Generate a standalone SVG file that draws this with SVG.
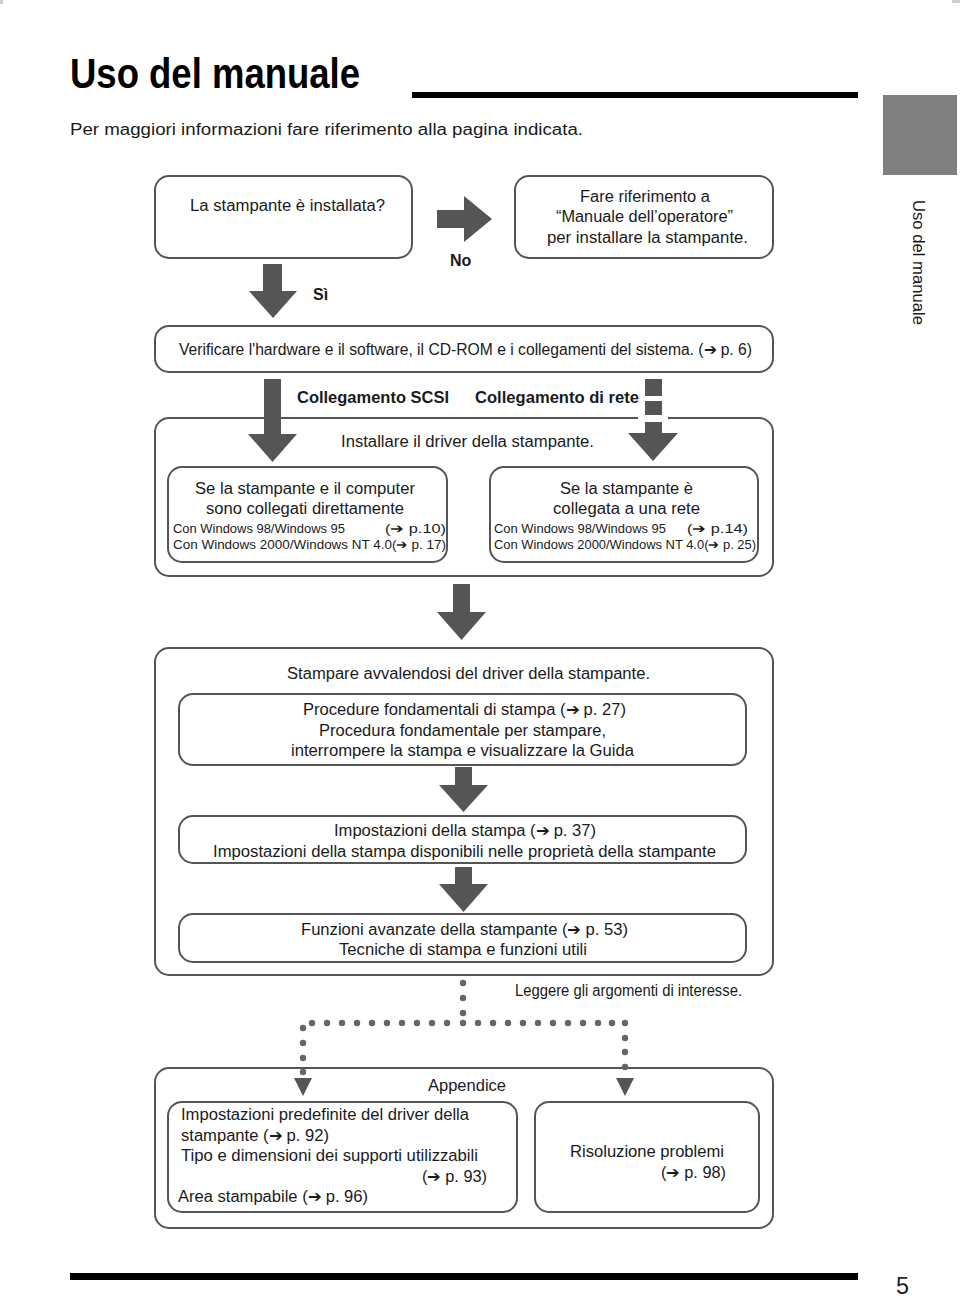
<svg xmlns="http://www.w3.org/2000/svg" width="960" height="1298" viewBox="0 0 960 1298">
<style>
  .box { fill: #fff; stroke: #555; stroke-width: 2; }
  .t { font-family: "Liberation Sans", Arial, sans-serif; fill: #1a1a1a; font-size: 16px; }
  .s { font-family: "Liberation Sans", Arial, sans-serif; fill: #1a1a1a; font-size: 13px; }
  .b { font-family: "Liberation Sans", Arial, sans-serif; fill: #1a1a1a; font-size: 16px; font-weight: bold; }
  .arr { fill: #555; }
  .dot { fill: #666; }
</style>
<defs>
  <circle id="d" r="3.2"/>
</defs>
<rect width="960" height="1298" fill="#fff"/>
<rect x="0" y="0" width="3" height="4" fill="#ccc"/>
<rect x="952" y="0" width="8" height="3" fill="#ccc"/>

<g id="header">
  <text x="70" y="88" font-family="Liberation Sans, Arial, sans-serif" font-weight="bold" font-size="43" fill="#000" textLength="290" lengthAdjust="spacingAndGlyphs">Uso del manuale</text>
  <rect x="412" y="92" width="446" height="6" fill="#000"/>
  <text x="70" y="135" class="t" font-size="17" textLength="513" lengthAdjust="spacingAndGlyphs">Per maggiori informazioni fare riferimento alla pagina indicata.</text>
  <rect x="883" y="95" width="74" height="80" fill="#808080"/>
  <text transform="translate(913,200) rotate(90)" class="t" font-size="15" textLength="125" lengthAdjust="spacingAndGlyphs">Uso del manuale</text>
</g>

<g id="node-installata">
  <rect class="box" x="155" y="176" width="257" height="82" rx="14"/>
  <text class="t" x="190" y="211" textLength="195" lengthAdjust="spacingAndGlyphs">La stampante è installata?</text>
</g>
<g id="node-manuale">
  <rect class="box" x="515" y="176" width="258" height="82" rx="14"/>
  <text class="t" x="580" y="202" textLength="130" lengthAdjust="spacingAndGlyphs">Fare riferimento a</text>
  <text class="t" x="556" y="222" textLength="177" lengthAdjust="spacingAndGlyphs">“Manuale dell’operatore”</text>
  <text class="t" x="547" y="243" textLength="201" lengthAdjust="spacingAndGlyphs">per installare la stampante.</text>
</g>
<g id="node-verificare">
  <rect class="box" x="155" y="326" width="618" height="46" rx="14"/>
  <text class="t" x="179" y="355" font-size="15" textLength="573" lengthAdjust="spacingAndGlyphs">Verificare l'hardware e il software, il CD-ROM e i collegamenti del sistema. (➔ p. 6)</text>
</g>

<g id="node-driver">
  <rect class="box" x="155" y="418" width="618" height="158" rx="14"/>
  <rect x="638" y="414" width="30" height="8" fill="#fff"/>
  <text class="t" x="341" y="447" textLength="253" lengthAdjust="spacingAndGlyphs">Installare il driver della stampante.</text>
</g>
<g id="node-diretto">
  <rect class="box" x="168" y="467" width="279" height="95" rx="14"/>
  <text class="t" x="195" y="494" textLength="220" lengthAdjust="spacingAndGlyphs">Se la stampante e il computer</text>
  <text class="t" x="206" y="514" textLength="198" lengthAdjust="spacingAndGlyphs">sono collegati direttamente</text>
  <text class="s" x="173" y="533" textLength="172" lengthAdjust="spacingAndGlyphs">Con Windows 98/Windows 95</text>
  <text class="s" x="385" y="533" textLength="61" lengthAdjust="spacingAndGlyphs">(➔ p.10)</text>
  <text class="s" x="173" y="549" textLength="273" lengthAdjust="spacingAndGlyphs">Con Windows 2000/Windows NT 4.0(➔ p. 17)</text>
</g>
<g id="node-rete">
  <rect class="box" x="490" y="467" width="268" height="95" rx="14"/>
  <text class="t" x="560" y="494" textLength="133" lengthAdjust="spacingAndGlyphs">Se la stampante è</text>
  <text class="t" x="553" y="514" textLength="147" lengthAdjust="spacingAndGlyphs">collegata a una rete</text>
  <text class="s" x="494" y="533" textLength="172" lengthAdjust="spacingAndGlyphs">Con Windows 98/Windows 95</text>
  <text class="s" x="687" y="533" textLength="61" lengthAdjust="spacingAndGlyphs">(➔ p.14)</text>
  <text class="s" x="494" y="549" textLength="262" lengthAdjust="spacingAndGlyphs">Con Windows 2000/Windows NT 4.0(➔ p. 25)</text>
</g>

<g id="node-stampare">
  <rect class="box" x="155" y="648" width="618" height="327" rx="14"/>
  <text class="t" x="287" y="679" textLength="363" lengthAdjust="spacingAndGlyphs">Stampare avvalendosi del driver della stampante.</text>
</g>
<g id="node-procedure">
  <rect class="box" x="179" y="694" width="567" height="71" rx="14"/>
  <text class="t" x="303" y="715" textLength="323" lengthAdjust="spacingAndGlyphs">Procedure fondamentali di stampa (➔ p. 27)</text>
  <text class="t" x="319" y="736" textLength="287" lengthAdjust="spacingAndGlyphs">Procedura fondamentale per stampare,</text>
  <text class="t" x="291" y="756" textLength="343" lengthAdjust="spacingAndGlyphs">interrompere la stampa e visualizzare la Guida</text>
</g>
<g id="node-impostazioni">
  <rect class="box" x="179" y="816" width="567" height="47" rx="14"/>
  <text class="t" x="334" y="836" textLength="262" lengthAdjust="spacingAndGlyphs">Impostazioni della stampa (➔ p. 37)</text>
  <text class="t" x="213" y="857" textLength="503" lengthAdjust="spacingAndGlyphs">Impostazioni della stampa disponibili nelle proprietà della stampante</text>
</g>
<g id="node-funzioni">
  <rect class="box" x="179" y="914" width="567" height="48" rx="14"/>
  <text class="t" x="301" y="935" textLength="327" lengthAdjust="spacingAndGlyphs">Funzioni avanzate della stampante (➔ p. 53)</text>
  <text class="t" x="339" y="955" textLength="248" lengthAdjust="spacingAndGlyphs">Tecniche di stampa e funzioni utili</text>
</g>

<g id="label-leggere">
  <text class="t" x="515" y="996" font-size="14" textLength="227" lengthAdjust="spacingAndGlyphs">Leggere gli argomenti di interesse.</text>
</g>

<g id="node-appendice">
  <rect class="box" x="155" y="1068" width="618" height="160" rx="14"/>
  <text class="t" x="428" y="1091" textLength="78" lengthAdjust="spacingAndGlyphs">Appendice</text>
</g>
<g id="node-appendice-sx">
  <rect class="box" x="168" y="1102" width="349" height="110" rx="14"/>
  <text class="t" x="181" y="1120" textLength="288" lengthAdjust="spacingAndGlyphs">Impostazioni predefinite del driver della</text>
  <text class="t" x="181" y="1141" textLength="148" lengthAdjust="spacingAndGlyphs">stampante (➔ p. 92)</text>
  <text class="t" x="181" y="1161" textLength="297" lengthAdjust="spacingAndGlyphs">Tipo e dimensioni dei supporti utilizzabili</text>
  <text class="t" x="422" y="1182" textLength="65" lengthAdjust="spacingAndGlyphs">(➔ p. 93)</text>
  <text class="t" x="178" y="1202" textLength="190" lengthAdjust="spacingAndGlyphs">Area stampabile (➔ p. 96)</text>
</g>
<g id="node-risoluzione">
  <rect class="box" x="535" y="1102" width="224" height="110" rx="14"/>
  <text class="t" x="570" y="1157" textLength="154" lengthAdjust="spacingAndGlyphs">Risoluzione problemi</text>
  <text class="t" x="661" y="1178" textLength="65" lengthAdjust="spacingAndGlyphs">(➔ p. 98)</text>
</g>

<g id="connectors">
  <path class="arr" d="M 263 264 H 282 V 291 H 297 L 273 318 L 249 291 H 263 Z"/>
  <text class="b" x="313" y="300">Sì</text>
  <path class="arr" d="M 437 210 H 464 V 196 L 492 219 L 464 242 V 228 H 437 Z"/>
  <text class="b" x="450" y="266">No</text>
  <path class="arr" d="M 264 379 H 281 V 434 H 297 L 272.5 462 L 248 434 H 264 Z"/>
  <text class="b" x="297" y="403" font-size="15" textLength="152" lengthAdjust="spacingAndGlyphs">Collegamento SCSI</text>
  <rect class="arr" x="645" y="379" width="17" height="17"/>
  <rect class="arr" x="645" y="401" width="17" height="14"/>
  <path class="arr" d="M 645 422 H 662 V 433 H 678 L 653 461 L 628 433 H 645 Z"/>
  <text class="b" x="475" y="403" font-size="15" textLength="164" lengthAdjust="spacingAndGlyphs">Collegamento di rete</text>
  <path class="arr" d="M 453 584 H 470 V 612 H 486 L 461.5 640 L 437 612 H 453 Z"/>
  <path class="arr" d="M 455 767 H 472 V 785 H 488 L 463.5 812 L 439 785 H 455 Z"/>
  <path class="arr" d="M 455 867 H 472 V 884 H 488 L 463.5 912 L 439 884 H 455 Z"/>
  <g class="dot">
    <use href="#d" x="463" y="983"/>
    <use href="#d" x="463" y="998"/>
    <use href="#d" x="463" y="1013"/>
    <use href="#d" x="303" y="1028"/>
    <use href="#d" x="312" y="1023"/>
    <use href="#d" x="327" y="1023"/>
    <use href="#d" x="342" y="1023"/>
    <use href="#d" x="357" y="1023"/>
    <use href="#d" x="372" y="1023"/>
    <use href="#d" x="387" y="1023"/>
    <use href="#d" x="402" y="1023"/>
    <use href="#d" x="417" y="1023"/>
    <use href="#d" x="432" y="1023"/>
    <use href="#d" x="447" y="1023"/>
    <use href="#d" x="463" y="1023"/>
    <use href="#d" x="478" y="1023"/>
    <use href="#d" x="493" y="1023"/>
    <use href="#d" x="508" y="1023"/>
    <use href="#d" x="523" y="1023"/>
    <use href="#d" x="538" y="1023"/>
    <use href="#d" x="553" y="1023"/>
    <use href="#d" x="568" y="1023"/>
    <use href="#d" x="583" y="1023"/>
    <use href="#d" x="598" y="1023"/>
    <use href="#d" x="612" y="1023"/>
    <use href="#d" x="625" y="1023"/>
    <use href="#d" x="303" y="1043"/>
    <use href="#d" x="303" y="1058"/>
    <use href="#d" x="303" y="1072"/>
    <use href="#d" x="625" y="1038"/>
    <use href="#d" x="625" y="1052"/>
    <use href="#d" x="625" y="1067"/>
  </g>
  <path class="arr" d="M 294 1078 H 312 L 303 1096 Z"/>
  <path class="arr" d="M 616 1078 H 634 L 625 1096 Z"/>
</g>

<g id="footer">
  <rect x="70" y="1273" width="788" height="7" fill="#000"/>
  <text x="896" y="1294" font-family="Liberation Sans, Arial, sans-serif" font-size="23" fill="#222" textLength="13" lengthAdjust="spacingAndGlyphs">5</text>
</g>
</svg>
